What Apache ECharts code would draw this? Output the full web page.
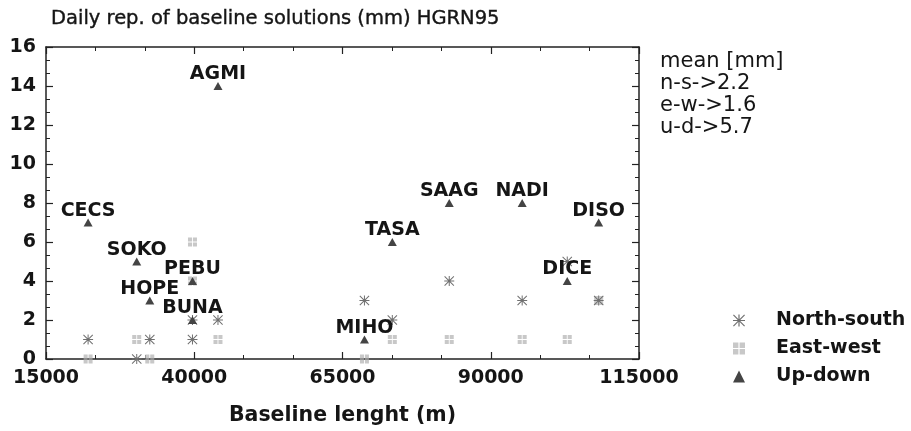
<!DOCTYPE html>
<html>
<head>
<meta charset="utf-8">
<script src="https://cdn.jsdelivr.net/npm/echarts@6/dist/echarts.min.js"></script>
<style>
html,body{margin:0;padding:0;background:#fff;}
#chart{width:911px;height:431px;}
</style>
</head>
<body>
<div id="chart"></div>
<script>
// ---- data ----
var stations = ['CECS','SOKO','HOPE','PEBU','BUNA','AGMI','MIHO','TASA','SAAG','NADI','DICE','DISO'];
var baseline = [22100, 30300, 32500, 39700, 39700, 44000, 68700, 73400, 83000, 95300, 102900, 108200];
var northSouth = [1, 0, 1, 1, 2, 2, 3, 2, 4, 3, 5, 3];
var eastWest   = [0, 1, 0, 6, 4, 1, 0, 1, 1, 1, 1, 3];
var upDown     = [7, 5, 3, 4, 2, 14, 1, 6, 8, 8, 4, 7];
var seriesNames = ['North-south', 'East-west', 'Up-down'];
var meanLines = ['mean [mm]', 'n-s->2.2', 'e-w->1.6', 'u-d->5.7'];
var titleText = 'Daily rep. of baseline solutions (mm) HGRN95';
var xAxisName = 'Baseline lenght (m)';

function pts(vals) {
  return baseline.map(function (b, i) { return [b, vals[i], stations[i]]; });
}

var FONT = '"DejaVu Sans", sans-serif';
var INK = '#151515';
var asterisk = 'path://M9 0L11 0L11 20L9 20Z M0 9L20 9L20 11L0 11Z M0 1.4L1.4 0L20 18.6L18.6 20Z M18.6 0L20 1.4L1.4 20L0 18.6Z';
var gridSym = 'path://M0 0H9V9H0Z M11 0H20V9H11Z M0 11H9V20H0Z M11 11H20V20H11Z';

var axisLineStyle = { color: '#222', width: 1.5 };
function xAx(pos, showLabel) {
  return {
    type: 'value', position: pos, min: 15000, max: 115000, interval: 25000,
    axisLine: { show: true, onZero: false, lineStyle: axisLineStyle },
    axisTick: { show: true, inside: true, length: 7, lineStyle: { color: '#222', width: 1.2 } },
    minorTick: { show: true, splitNumber: 3, length: 4, lineStyle: { color: '#222', width: 1 } },
    splitLine: { show: false },
    axisLabel: { show: showLabel, margin: 10, color: INK, fontFamily: FONT, fontWeight: 'bold', fontSize: 19,
      formatter: function (v) { return String(v); } },
    name: showLabel ? xAxisName : '',
    nameLocation: 'middle', nameGap: 46,
    nameTextStyle: { color: INK, fontFamily: FONT, fontWeight: 'bold', fontSize: 20.5 }
  };
}
function yAx(pos, showLabel) {
  return {
    type: 'value', position: pos, min: 0, max: 16, interval: 2,
    axisLine: { show: true, onZero: false, lineStyle: axisLineStyle },
    axisTick: { show: true, inside: true, length: 7, lineStyle: { color: '#222', width: 1.2 } },
    minorTick: { show: true, splitNumber: 3, length: 4, lineStyle: { color: '#222', width: 1 } },
    splitLine: { show: false },
    axisLabel: { show: showLabel, margin: 10, color: INK, fontFamily: FONT, fontWeight: 'bold', fontSize: 19 }
  };
}

var chart = echarts.init(document.getElementById('chart'), null, { renderer: 'canvas' });
chart.setOption({
  backgroundColor: '#fff',
  animation: false,
  title: {
    text: titleText, left: 46, top: 4,
    textStyle: { color: INK, fontFamily: FONT, fontWeight: 'normal', fontSize: 19.5, textBorderColor: INK, textBorderWidth: 0.4 }
  },
  graphic: [{
    type: 'text', left: 660, top: 51,
    style: { text: meanLines.join('\n'), fill: INK, font: 'normal 21px "DejaVu Sans", sans-serif', lineHeight: 22 }
  }],
  legend: {
    orient: 'vertical', left: 728, top: 306,
    itemWidth: 12, itemHeight: 12, itemGap: 9,
    data: seriesNames,
    textStyle: { color: INK, fontFamily: FONT, fontWeight: 'bold', fontSize: 19, padding: [0, 0, 0, 26] }
  },
  grid: { left: 46, right: 272, top: 47, bottom: 66 },
  xAxis: [xAx('bottom', true), xAx('top', false)],
  yAxis: [yAx('left', true), yAx('right', false)],
  series: [
    {
      name: seriesNames[0], type: 'scatter', xAxisIndex: 0, yAxisIndex: 0,
      symbol: asterisk, symbolSize: 10,
      itemStyle: { color: '#707070', opacity: 1 },
      data: pts(northSouth), z: 3
    },
    {
      name: seriesNames[1], type: 'scatter', xAxisIndex: 0, yAxisIndex: 0,
      symbol: gridSym, symbolSize: 9,
      itemStyle: { color: '#c8c8c8', opacity: 1 },
      data: pts(eastWest), z: 2
    },
    {
      name: seriesNames[2], type: 'scatter', xAxisIndex: 0, yAxisIndex: 0,
      symbol: 'triangle', symbolSize: [9, 8],
      itemStyle: { color: '#444444', opacity: 1 },
      data: pts(upDown), z: 4,
      label: {
        show: true, position: 'top', distance: -2,
        formatter: function (p) { return p.data[2]; },
        color: INK, fontFamily: FONT, fontWeight: 'bold', fontSize: 19
      }
    }
  ]
});
</script>
</body>
</html>
